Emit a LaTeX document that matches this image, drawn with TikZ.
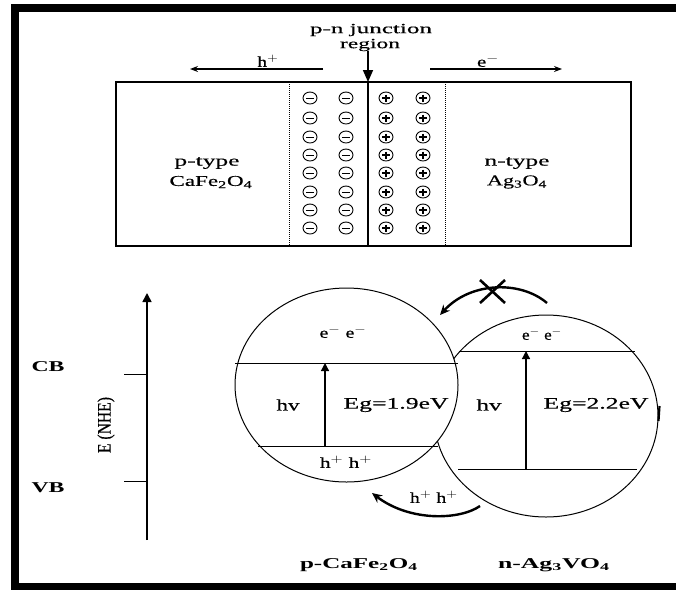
\documentclass[tikz,border=0pt]{standalone}
\usepackage{fontspec}
\setmainfont{Liberation Serif}
\newfontfamily\heavyser{Liberation Serif}[FakeBold=0.35]
\usepackage{graphicx}
\usetikzlibrary{arrows.meta,shapes.geometric}
\newcommand{\sxw}[2]{\resizebox{#1pt}{\height}{#2}}
\begin{document}
\begin{tikzpicture}[x=1pt,y=-1pt,
  lbl/.style={inner sep=0pt, font=\fontsize{15}{17}\selectfont\heavyser},
  smlbl/.style={inner sep=0pt, font=\fontsize{14}{16}\selectfont\heavyser},
  biglbl/.style={inner sep=0pt, font=\fontsize{16}{18}\selectfont\heavyser},
  blbl/.style={inner sep=0pt, font=\fontsize{15}{17}\selectfont\bfseries},
  frame/.style={fill=black},
  boxline/.style={line width=1.1pt},
  dotline/.style={line width=1pt, dash pattern=on 1pt off 1pt},
  charge/.style={line width=0.9pt},
  band/.style={line width=0.9pt},
  ell/.style={line width=1pt},
  gap/.style={line width=1.3pt, -{Triangle[width=8pt,length=8pt]}},
  curvy/.style={line width=2.4pt, -{Stealth[length=10pt,width=9pt]}}
]
\useasboundingbox (0,0) rectangle (676,590);
% frame
\fill[frame] (11,4) rectangle (676,12);
\fill[frame] (11,4) rectangle (19,590);
\fill[frame] (11,583) rectangle (676,590);

% ---------- top: p-n junction ----------
\coordinate (rtl) at (116,82);
\coordinate (rbr) at (631,246);
\draw[boxline] (rtl) rectangle (rbr);
\coordinate (lthk) at (116,165);
\draw[line width=2pt] (rtl) -- (lthk);
\coordinate (jtop) at (368,82);
\coordinate (jbot) at (368,246);
\draw[line width=1.7pt] (jtop) -- (jbot);
\coordinate (d1t) at (289,82); \coordinate (d1b) at (289,246);
\coordinate (d2t) at (445,82); \coordinate (d2b) at (445,246);
\draw[dotline] (d1t) -- (d1b);
\draw[dotline] (d2t) -- (d2b);

\node[smlbl] (pnj) at (371,30) {\sxw{122}{p-n junction}};
\node[smlbl] (region) at (370,45) {\sxw{60}{region}};
\draw[line width=1.6pt, -{Triangle[width=10pt,length=12pt]}] (region.south -| jtop) -- (jtop);

\coordinate (hps) at (323,69); \coordinate (hpe) at (190,69);
\draw[line width=2.5pt, -{Stealth[length=8pt,width=6pt]}] (hps) -- (hpe);
\node[lbl] (hplus) at (268,61) {\sxw{21}{h$^{+}$}};
\coordinate (ems) at (430,69); \coordinate (eme) at (562,69);
\draw[line width=1.2pt, -{Stealth[length=8pt,width=6pt]}] (ems) -- (eme);
\node[lbl] (eminus) at (488,61) {\sxw{22}{e$^{-}$}};

\foreach \yy in {98,118,137,155,173,192,210,228}{
  \foreach \xx in {310,346}{
    \draw[charge] (\xx,\yy) ellipse (7 and 6);
    \draw[charge] (\xx-4,\yy) -- (\xx+4,\yy);
  }
  \foreach \xx in {386,423}{
    \draw[charge] (\xx,\yy) ellipse (7 and 6);
    \draw[line width=1.2pt] (\xx-4,\yy) -- (\xx+4,\yy);
    \draw[line width=1.2pt] (\xx,\yy-3.5) -- (\xx,\yy+3.5);
  }
}

\node[lbl] (ptype) at (207,163) {\sxw{65}{p-type}};
\node[lbl] (cafe) at (211,182) {\sxw{83}{CaFe\textsubscript{2}O\textsubscript{4}}};
\node[lbl] (ntype) at (517,163) {\sxw{65}{n-type}};
\node[lbl] (ago) at (517,182) {\sxw{60}{Ag\textsubscript{3}O\textsubscript{4}}};

% ---------- bottom: band diagram ----------
% axis
\coordinate (axb) at (147,540); \coordinate (axt) at (147,293);
\draw[line width=1.6pt, -{Triangle[width=9pt,length=9pt]}] (axb) -- (axt);
\coordinate (cbt) at (124,374); \coordinate (cba) at (147,374);
\coordinate (vbt) at (124,481); \coordinate (vba) at (147,481);
\draw[band] (cbt) -- (cba);
\draw[band] (vbt) -- (vba);
\node[blbl] (cb) at (48,367) {\sxw{33}{CB}};
\node[blbl] (vb) at (48,488) {\sxw{33}{VB}};
\node[biglbl, rotate=90] (enhe) at (106,425) {\sxw{56}{\fontsize{19}{21}\selectfont E (NHE)}};

% right ellipse (behind)
\node[draw, ell, ellipse, minimum width=224pt, minimum height=202pt, inner sep=0pt] (agell) at (546,416) {};
\coordinate (rcb1) at (459,351); \coordinate (rcb2) at (635,351);
\coordinate (rvb1) at (458,469); \coordinate (rvb2) at (637,469);
\draw[band] (rcb1) -- (rcb2);
\draw[band] (rvb1) -- (rvb2);
\coordinate (rab) at (526,469); \coordinate (rat) at (526,351);
\draw[gap] (rab) -- (rat);
\draw[line width=2.2pt] (659.5,406) -- (658.5,421);

% left ellipse (front)
\node[draw, ell, fill=white, ellipse, minimum width=223pt, minimum height=194pt, inner sep=0pt] (cfell) at (346.5,385) {};
\coordinate (lcb1) at (235,363); \coordinate (lcb2) at (458,363);
\coordinate (lvb1) at (258,446); \coordinate (lvb2) at (438,446);
\draw[band] (lcb1) -- (lcb2);
\draw[band] (lvb1) -- (lvb2);
\coordinate (lab) at (325,446); \coordinate (lat) at (325,363);
\draw[gap] (lab) -- (lat);

\node[lbl] (lee) at (343,332) {\sxw{47}{e$^{-}$ e$^{-}$}};
\node[biglbl] (lhv) at (288,405) {\sxw{23}{hv}};
\node[biglbl] (leg) at (396,405) {\sxw{105}{Eg=1.9eV}};
\node[lbl] (lhh) at (346,462) {\sxw{52}{h$^{+}$ h$^{+}$}};
\node[lbl] (ree) at (542,334) {\sxw{40}{e$^{-}$ e$^{-}$}};
\node[biglbl] (rhv) at (489,405) {\sxw{25}{hv}};
\node[biglbl] (reg) at (596,405) {\sxw{105}{Eg=2.2eV}};
\node[lbl] (mhh) at (434,497) {\sxw{48}{h$^{+}$ h$^{+}$}};

% curved arrows
\coordinate (ta) at (547,303); \coordinate (tb) at (440,315);
\draw[curvy] (ta) .. controls (520,280) and (470,282) .. (tb);
\coordinate (x1) at (480,280); \coordinate (x2) at (505,303);
\coordinate (x3) at (505,280); \coordinate (x4) at (480,303);
\draw[line width=2.6pt] (x1) -- (x2);
\draw[line width=2.6pt] (x3) -- (x4);
\coordinate (ba) at (480,506); \coordinate (bb) at (372,493);
\draw[curvy] (ba) .. controls (460,520) and (410,522) .. (bb);

\node[blbl] (pcafe) at (359,565) {\sxw{118}{p-CaFe\textsubscript{2}O\textsubscript{4}}};
\node[blbl] (nagvo) at (554,565) {\sxw{112}{n-Ag\textsubscript{3}VO\textsubscript{4}}};
\end{tikzpicture}
\end{document}
